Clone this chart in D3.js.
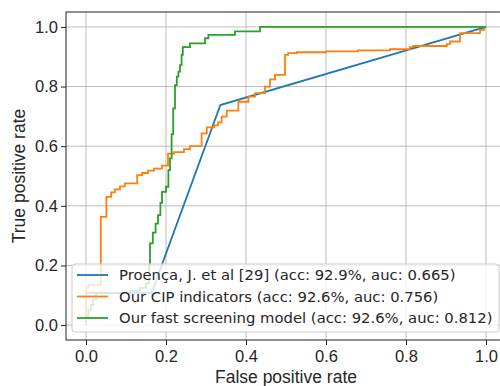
<!DOCTYPE html>
<html>
<head>
<meta charset="utf-8">
<script src="https://cdn.jsdelivr.net/npm/d3@7"></script>
<style>
  html, body { margin: 0; padding: 0; background: #fff; }
  svg { display: block; }
  text { fill: #262626; }
</style>
</head>
<body>
<div id="chart"></div>
<script>
// ROC points (fpr, tpr)
const proenca = [[0, 0], [0, 0.108], [0.164, 0.108], [0.336, 0.738], [1, 1]];

const cip = [
  [0, 0], [0, 0.125], [0.006, 0.125], [0.006, 0.135], [0.037, 0.135], [0.037, 0.363],
  [0.051, 0.363], [0.051, 0.43], [0.063, 0.43], [0.063, 0.445], [0.072, 0.445], [0.072, 0.455],
  [0.085, 0.455], [0.085, 0.465], [0.097, 0.465], [0.097, 0.475], [0.128, 0.475], [0.128, 0.503],
  [0.14, 0.503], [0.14, 0.51], [0.155, 0.51], [0.155, 0.518], [0.17, 0.518], [0.17, 0.525],
  [0.19, 0.525], [0.19, 0.535], [0.205, 0.535], [0.205, 0.575], [0.22, 0.575], [0.22, 0.58],
  [0.245, 0.58], [0.245, 0.59], [0.26, 0.59], [0.26, 0.6], [0.289, 0.6], [0.289, 0.643],
  [0.302, 0.643], [0.302, 0.663], [0.32, 0.663], [0.32, 0.67], [0.33, 0.67], [0.33, 0.68],
  [0.339, 0.68], [0.339, 0.699], [0.352, 0.699], [0.352, 0.719], [0.381, 0.719], [0.381, 0.749],
  [0.406, 0.749], [0.406, 0.766], [0.4225, 0.766], [0.4225, 0.778], [0.4475, 0.778], [0.4475, 0.8],
  [0.46, 0.8], [0.46, 0.824], [0.4725, 0.824], [0.4725, 0.839], [0.4975, 0.839], [0.4975, 0.906],
  [0.505, 0.906], [0.505, 0.912], [0.527, 0.912], [0.527, 0.915], [0.6, 0.915], [0.6, 0.918],
  [0.68, 0.918], [0.68, 0.921], [0.76, 0.921], [0.76, 0.925], [0.81, 0.925], [0.81, 0.932],
  [0.818, 0.932], [0.818, 0.936], [0.902, 0.936], [0.902, 0.942], [0.91, 0.942], [0.91, 0.951],
  [0.935, 0.951], [0.935, 0.979], [0.985, 0.979], [0.985, 0.99], [0.995, 0.99], [0.995, 1], [1, 1]
];

const fastModel = [
  [0, 0], [0, 0.028], [0.006, 0.028], [0.006, 0.05], [0.012, 0.05], [0.012, 0.067],
  [0.018, 0.067], [0.018, 0.086], [0.025, 0.086], [0.025, 0.107], [0.11, 0.107], [0.11, 0.115],
  [0.135, 0.115], [0.135, 0.125], [0.15, 0.125], [0.15, 0.14], [0.158, 0.14], [0.158, 0.2],
  [0.16, 0.2], [0.16, 0.274], [0.167, 0.274], [0.167, 0.31], [0.174, 0.31], [0.174, 0.34],
  [0.18, 0.34], [0.18, 0.369], [0.186, 0.369], [0.186, 0.41], [0.19, 0.41], [0.19, 0.447],
  [0.2, 0.447], [0.2, 0.464], [0.206, 0.464], [0.206, 0.52], [0.21, 0.52], [0.21, 0.559],
  [0.214, 0.559], [0.214, 0.64], [0.218, 0.64], [0.218, 0.727], [0.2225, 0.727], [0.2225, 0.805],
  [0.227, 0.805], [0.227, 0.833], [0.231, 0.833], [0.231, 0.85], [0.235, 0.85], [0.235, 0.872],
  [0.239, 0.872], [0.239, 0.906], [0.242, 0.906], [0.242, 0.932], [0.26, 0.932], [0.26, 0.945],
  [0.2975, 0.945], [0.2975, 0.962], [0.306, 0.962], [0.306, 0.973], [0.3725, 0.973], [0.3725, 0.985],
  [0.435, 0.985], [0.435, 1], [1, 1]
];

const seriesNames = [
  'Proença, J. et al [29] (acc: 92.9%, auc: 0.665)',
  'Our CIP indicators (acc: 92.6%, auc: 0.756)',
  'Our fast screening model (acc: 92.6%, auc: 0.812)'
];
const seriesColors = ['#1f77b4', '#ff7f0e', '#2ca02c'];
const ticks = [0, 0.2, 0.4, 0.6, 0.8, 1.0];

const W = 500, H = 386;
const plot = { left: 66, right: 506, top: 12, bottom: 340 };
const SANS = '"Liberation Sans", Arial, sans-serif';
const LEGEND_FONT = '"DejaVu Sans", sans-serif';

const svg = d3.select('#chart').append('svg')
  .attr('width', W)
  .attr('height', H);

const x = d3.scaleLinear().domain([-0.05, 1.05]).range([plot.left, plot.right]);
const y = d3.scaleLinear().domain([-0.05, 1.05]).range([plot.bottom, plot.top]);

// grid
const grid = svg.append('g');
grid.selectAll('.gx').data(ticks).join('line')
  .attr('x1', d => x(d)).attr('x2', d => x(d))
  .attr('y1', plot.top).attr('y2', plot.bottom)
  .attr('stroke', '#b0b0b0').attr('stroke-width', 1).attr('opacity', 0.8);
grid.selectAll('.gy').data(ticks).join('line')
  .attr('x1', plot.left).attr('x2', plot.right)
  .attr('y1', d => y(d)).attr('y2', d => y(d))
  .attr('stroke', '#b0b0b0').attr('stroke-width', 1).attr('opacity', 0.8);

// curves
const line = d3.line().x(d => x(d[0])).y(d => y(d[1]));
[proenca, cip, fastModel].forEach((pts, i) => {
  svg.append('path')
    .datum(pts)
    .attr('d', line)
    .attr('fill', 'none')
    .attr('stroke', seriesColors[i])
    .attr('stroke-width', 1.8)
    .attr('stroke-linejoin', 'miter');
});

// frame
svg.append('rect')
  .attr('x', plot.left).attr('y', plot.top)
  .attr('width', plot.right - plot.left).attr('height', plot.bottom - plot.top)
  .attr('fill', 'none').attr('stroke', '#222').attr('stroke-width', 1);

// axes
const fmt = d3.format('.1f');
const xAxis = svg.append('g')
  .attr('transform', `translate(0,${plot.bottom})`)
  .call(d3.axisBottom(x).tickValues(ticks).tickFormat(fmt).tickSize(5).tickPadding(5));
const yAxis = svg.append('g')
  .attr('transform', `translate(${plot.left},0)`)
  .call(d3.axisLeft(y).tickValues(ticks).tickFormat(fmt).tickSize(5).tickPadding(3));
[xAxis, yAxis].forEach(a => {
  a.select('.domain').remove();
  a.selectAll('.tick line').attr('stroke', '#222');
  a.selectAll('.tick text')
    .style('font-family', SANS)
    .attr('font-size', 16.5).attr('fill', '#262626');
});

svg.append('text')
  .attr('x', (plot.left + plot.right) / 2)
  .attr('y', 383)
  .attr('text-anchor', 'middle')
  .style('font-family', SANS)
  .attr('font-size', 17.5)
  .text('False positive rate');

svg.append('text')
  .attr('transform', `translate(25,${(plot.top + plot.bottom) / 2}) rotate(-90)`)
  .attr('text-anchor', 'middle')
  .style('font-family', SANS)
  .attr('font-size', 17.5)
  .text('True positive rate');

// legend
const leg = svg.append('g');
leg.append('rect')
  .attr('x', 72).attr('y', 264).attr('width', 427).attr('height', 68)
  .attr('rx', 3)
  .attr('fill', '#fff').attr('fill-opacity', 0.8)
  .attr('stroke', '#cccccc').attr('stroke-width', 1);
seriesNames.forEach((name, i) => {
  const cy = 275 + i * 21.5;
  leg.append('line')
    .attr('x1', 77).attr('x2', 108)
    .attr('y1', cy).attr('y2', cy)
    .attr('stroke', seriesColors[i]).attr('stroke-width', 1.8);
  leg.append('text')
    .attr('x', 119).attr('y', cy)
    .attr('dy', '0.36em')
    .style('font-family', LEGEND_FONT)
    .attr('font-size', 14.8)
    .text(name);
});
</script>
</body>
</html>
